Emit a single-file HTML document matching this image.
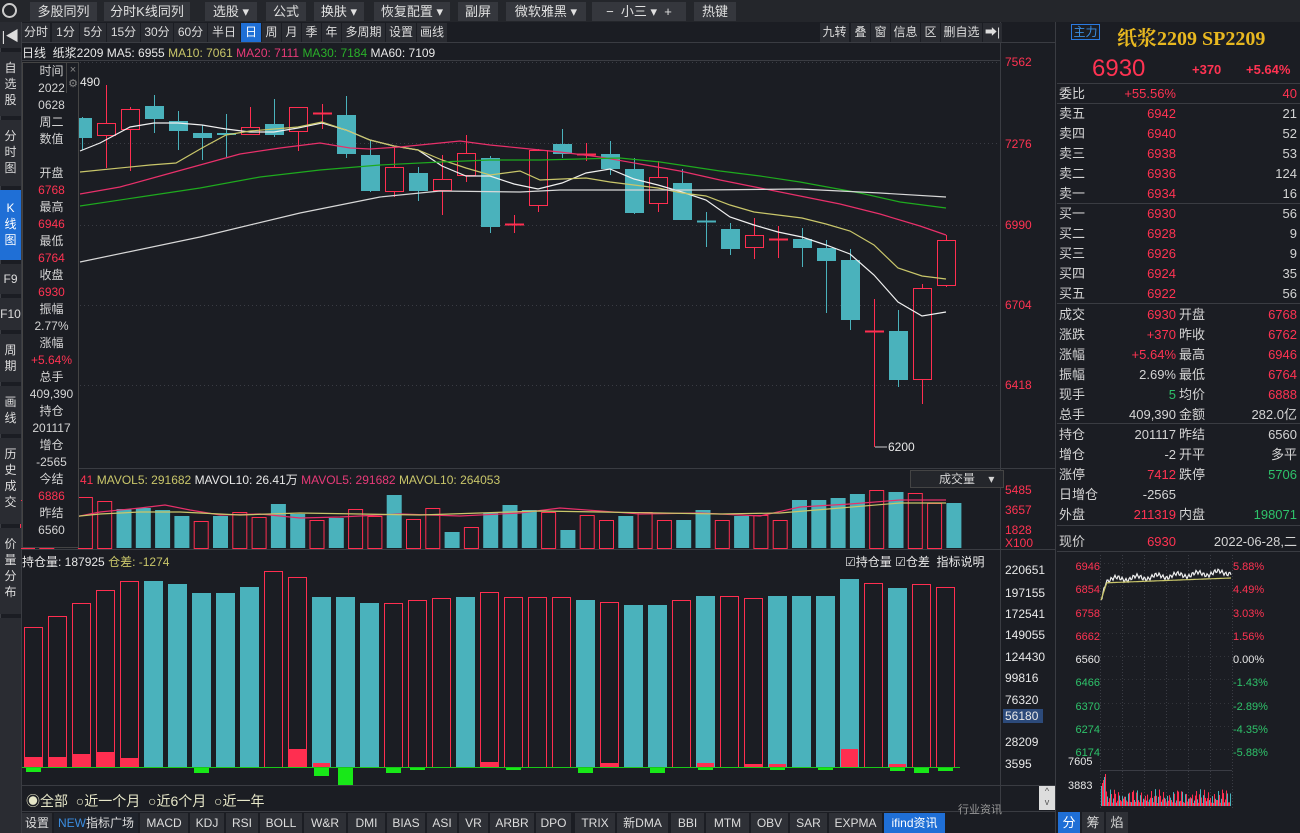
<!DOCTYPE html>
<html><head><meta charset="utf-8">
<style>
*{margin:0;padding:0;box-sizing:border-box}
body{width:1300px;height:833px;background:#1b1d23;overflow:hidden;position:relative;font-family:"Liberation Sans","Noto Sans CJK SC",sans-serif;font-size:12px;color:#d4d4d4}
.a{position:absolute;white-space:nowrap}
.btn{position:absolute;top:2px;height:19px;background:#35373d;color:#e0e0e0;font-size:13px;line-height:19px;text-align:center}
.tab{position:absolute;top:23px;height:19px;background:#2a2c32;color:#ddd;font-size:12px;line-height:19px;text-align:center;border-right:1px solid #1b1d23}
.side{position:absolute;left:0;width:21px;background:#2a2c32;color:#ddd;font-size:12px;line-height:16px;text-align:center;padding-top:4px}
.r{color:#ff3352}.g{color:#2ec26a}.y{color:#c9c66a}.m{color:#e83a78}.gr{color:#2ab02a}.w{color:#e8e8e8}
.info div{height:17px;line-height:17px;text-align:center;width:57px}
.rp div{position:absolute;height:20px;line-height:20px;font-size:13px;white-space:nowrap}
.bt{position:absolute;top:813px;height:20px;background:#2e3036;color:#ddd;font-size:12px;line-height:20px;text-align:center}
</style></head><body>
<svg id="s" class="a" style="left:0;top:0" width="1300" height="833"></svg>

<div class="a" style="left:0;top:0;width:1300px;height:22px;background:#24262b"></div>
<div class="a" style="left:2px;top:3px;width:15px;height:15px;border:2px solid #ccc;border-radius:50%"></div>
<div class="btn" style="left:30px;width:67px">多股同列</div>
<div class="btn" style="left:104px;width:86px">分时K线同列</div>
<div class="btn" style="left:205px;width:52px">选股 ▾</div>
<div class="btn" style="left:266px;width:40px">公式</div>
<div class="btn" style="left:314px;width:50px">换肤 ▾</div>
<div class="btn" style="left:374px;width:76px">恢复配置 ▾</div>
<div class="btn" style="left:458px;width:40px">副屏</div>
<div class="btn" style="left:506px;width:80px">微软雅黑 ▾</div>
<div class="btn" style="left:592px;width:94px">−&nbsp;&nbsp;小三 ▾&nbsp;&nbsp;+</div>
<div class="btn" style="left:694px;width:42px">热键</div>

<div class="side" style="top:22px;height:26px;font-size:14px;line-height:20px">|◀</div>
<div class="side" style="top:52px;height:64px;padding-top:8px">自<br>选<br>股</div>
<div class="side" style="top:120px;height:66px;padding-top:8px">分<br>时<br>图</div>
<div class="side" style="top:190px;height:70px;padding-top:10px;background:#1f6fd6;color:#fff">K<br>线<br>图</div>
<div class="side" style="top:264px;height:30px;padding-top:7px">F9</div>
<div class="side" style="top:298px;height:32px;padding-top:8px">F10</div>
<div class="side" style="top:334px;height:48px;padding-top:8px">周<br>期</div>
<div class="side" style="top:386px;height:48px;padding-top:8px">画<br>线</div>
<div class="side" style="top:438px;height:86px;padding-top:8px">历<br>史<br>成<br>交</div>
<div class="side" style="top:528px;height:86px;padding-top:8px">价<br>量<br>分<br>布</div>
<div class="side" style="top:618px;height:215px"></div>

<div class="tab" style="left:22px;width:29px">分时</div>
<div class="tab" style="left:52px;width:28px">1分</div>
<div class="tab" style="left:80px;width:27px">5分</div>
<div class="tab" style="left:107px;width:34px">15分</div>
<div class="tab" style="left:141px;width:33px">30分</div>
<div class="tab" style="left:174px;width:34px">60分</div>
<div class="tab" style="left:208px;width:33px">半日</div>
<div class="tab" style="left:241px;width:21px;background:#1f6fd6;color:#fff">日</div>
<div class="tab" style="left:262px;width:20px">周</div>
<div class="tab" style="left:282px;width:20px">月</div>
<div class="tab" style="left:302px;width:20px">季</div>
<div class="tab" style="left:322px;width:20px">年</div>
<div class="tab" style="left:342px;width:44px">多周期</div>
<div class="tab" style="left:386px;width:31px">设置</div>
<div class="tab" style="left:417px;width:31px">画线</div>
<div class="tab" style="left:820px;width:30px">九转</div>
<div class="tab" style="left:851px;width:20px">叠</div>
<div class="tab" style="left:871px;width:20px">窗</div>
<div class="tab" style="left:891px;width:30px">信息</div>
<div class="tab" style="left:921px;width:20px">区</div>
<div class="tab" style="left:941px;width:42px">删自选</div>
<div class="tab" style="left:983px;width:20px">➡|</div>

<div class="a" style="left:22px;top:44px;font-size:12px"><span class="w">日线&nbsp; 纸浆2209 MA5: 6955</span> <span class="y">MA10: 7061</span> <span class="m">MA20: 7111</span> <span class="gr">MA30: 7184</span> <span class="w">MA60: 7109</span></div>

<div class="a r" style="left:1005px;top:55px">7562</div>
<div class="a r" style="left:1005px;top:137px">7276</div>
<div class="a r" style="left:1005px;top:218px">6990</div>
<div class="a r" style="left:1005px;top:298px">6704</div>
<div class="a r" style="left:1005px;top:378px">6418</div>
<div class="a w" style="left:888px;top:440px">6200</div>
<div class="a w" style="left:80px;top:75px">490</div>

<div class="a r" style="left:1005px;top:483px">5485</div>
<div class="a r" style="left:1005px;top:503px">3657</div>
<div class="a r" style="left:1005px;top:523px">1828</div>
<div class="a r" style="left:1005px;top:536px">X100</div>

<div class="a" style="left:80px;top:471px"><span class="r">41</span> <span class="y">MAVOL5: 291682</span> <span class="w">MAVOL10: 26.41万</span> <span class="m">MAVOL5: 291682</span> <span class="y">MAVOL10: 264053</span></div>
<div class="a" style="left:910px;top:470px;width:94px;height:18px;background:#24262b;border:1px solid #444;line-height:16px;padding-left:28px">成交量&nbsp;&nbsp;&nbsp;&nbsp;▾</div>

<div class="a" style="left:22px;top:553px"><span class="w">持仓量: 187925</span> <span class="y">仓差: -1274</span></div>
<div class="a w" style="left:845px;top:553px">☑持仓量 ☑仓差&nbsp; 指标说明</div>

<div class="a w" style="left:1005px;top:563px">220651</div>
<div class="a w" style="left:1005px;top:586px">197155</div>
<div class="a w" style="left:1005px;top:607px">172541</div>
<div class="a w" style="left:1005px;top:628px">149055</div>
<div class="a w" style="left:1005px;top:650px">124430</div>
<div class="a w" style="left:1005px;top:671px">99816</div>
<div class="a w" style="left:1005px;top:693px">76320</div>
<div class="a w" style="left:1003px;top:709px;width:40px;background:#2c4a7a;padding-left:2px">56180</div>
<div class="a w" style="left:1005px;top:735px">28209</div>
<div class="a w" style="left:1005px;top:757px">3595</div>

<div class="a" style="left:26px;top:791px;font-size:14px;color:#e6e6c8">◉全部&nbsp; ○近一个月&nbsp; ○近6个月&nbsp; ○近一年</div>
<div class="a" style="left:1039px;top:786px;width:16px;height:24px;background:#ddd;color:#555;font-size:9px;text-align:center;line-height:11px">^<br>v</div>
<div class="a" style="left:958px;top:801px;font-size:11px;color:#999">行业资讯</div>

<div class="bt" style="left:22px;width:30px">设置</div>
<div class="bt" style="left:54px;width:84px;background:#20242c"><span style="color:#3b8de0">NEW</span>指标广场</div>
<div class="bt" style="left:140px;width:48px">MACD</div>
<div class="bt" style="left:190px;width:34px">KDJ</div>
<div class="bt" style="left:226px;width:32px">RSI</div>
<div class="bt" style="left:260px;width:42px">BOLL</div>
<div class="bt" style="left:304px;width:42px">W&amp;R</div>
<div class="bt" style="left:348px;width:37px">DMI</div>
<div class="bt" style="left:387px;width:38px">BIAS</div>
<div class="bt" style="left:427px;width:30px">ASI</div>
<div class="bt" style="left:459px;width:29px">VR</div>
<div class="bt" style="left:490px;width:44px">ARBR</div>
<div class="bt" style="left:536px;width:35px">DPO</div>
<div class="bt" style="left:575px;width:40px">TRIX</div>
<div class="bt" style="left:617px;width:51px">新DMA</div>
<div class="bt" style="left:671px;width:33px">BBI</div>
<div class="bt" style="left:706px;width:43px">MTM</div>
<div class="bt" style="left:751px;width:37px">OBV</div>
<div class="bt" style="left:790px;width:37px">SAR</div>
<div class="bt" style="left:829px;width:53px">EXPMA</div>
<div class="bt" style="left:884px;width:61px;background:#1f6fd6;color:#fff">ifind资讯</div>

<div class="a info" style="left:22px;top:62px;width:57px;height:486px;background:#1b1d23;border:1px solid #444;overflow:hidden;font-size:12px">
<div>时间</div><div>2022</div><div>0628</div><div>周二</div><div>数值</div><div></div>
<div>开盘</div><div class="r">6768</div><div>最高</div><div class="r">6946</div><div>最低</div><div class="r">6764</div><div>收盘</div><div class="r">6930</div><div>振幅</div><div>2.77%</div><div>涨幅</div><div class="r">+5.64%</div><div>总手</div><div>409,390</div><div>持仓</div><div>201117</div><div>增仓</div><div>-2565</div><div>今结</div><div class="r">6886</div><div>昨结</div><div>6560</div>
</div>
<div class="a" style="left:66px;top:63px;width:13px;height:30px;border-left:1px solid #444;color:#888;font-size:11px;line-height:14px;text-align:center">×<br>⚙</div>

<div class="a" style="left:1071px;top:24px;width:29px;height:16px;border:1px solid #2a7ae0;color:#3b8de0;font-size:12px;line-height:14px;text-align:center">主力</div>
<div class="a" style="left:1117px;top:22px;font-size:20px;font-weight:bold;color:#e8b820;font-family:'Liberation Serif','Noto Serif CJK SC',serif">纸浆2209 SP2209</div>
<div class="a r" style="left:1092px;top:55px;font-size:24px">6930</div>
<div class="a r" style="left:1192px;top:62px;font-size:13px;font-weight:bold">+370</div>
<div class="a r" style="left:1246px;top:62px;font-size:13px;font-weight:bold">+5.64%</div>
<div class="rp" style="position:absolute;left:0;top:0">
<div style="left:1059px;top:84px">委比</div><div class="r" style="left:1120px;top:84px;width:56px;text-align:right">+55.56%</div><div class="r" style="left:1250px;top:84px;width:47px;text-align:right">40</div>
<div style="left:1059px;top:104px">卖五</div><div class="r" style="left:1120px;top:104px;width:56px;text-align:right">6942</div><div style="left:1250px;top:104px;width:47px;text-align:right">21</div>
<div style="left:1059px;top:124px">卖四</div><div class="r" style="left:1120px;top:124px;width:56px;text-align:right">6940</div><div style="left:1250px;top:124px;width:47px;text-align:right">52</div>
<div style="left:1059px;top:144px">卖三</div><div class="r" style="left:1120px;top:144px;width:56px;text-align:right">6938</div><div style="left:1250px;top:144px;width:47px;text-align:right">53</div>
<div style="left:1059px;top:164px">卖二</div><div class="r" style="left:1120px;top:164px;width:56px;text-align:right">6936</div><div style="left:1250px;top:164px;width:47px;text-align:right">124</div>
<div style="left:1059px;top:184px">卖一</div><div class="r" style="left:1120px;top:184px;width:56px;text-align:right">6934</div><div style="left:1250px;top:184px;width:47px;text-align:right">16</div>
<div style="left:1059px;top:204px">买一</div><div class="r" style="left:1120px;top:204px;width:56px;text-align:right">6930</div><div style="left:1250px;top:204px;width:47px;text-align:right">56</div>
<div style="left:1059px;top:224px">买二</div><div class="r" style="left:1120px;top:224px;width:56px;text-align:right">6928</div><div style="left:1250px;top:224px;width:47px;text-align:right">9</div>
<div style="left:1059px;top:244px">买三</div><div class="r" style="left:1120px;top:244px;width:56px;text-align:right">6926</div><div style="left:1250px;top:244px;width:47px;text-align:right">9</div>
<div style="left:1059px;top:264px">买四</div><div class="r" style="left:1120px;top:264px;width:56px;text-align:right">6924</div><div style="left:1250px;top:264px;width:47px;text-align:right">35</div>
<div style="left:1059px;top:284px">买五</div><div class="r" style="left:1120px;top:284px;width:56px;text-align:right">6922</div><div style="left:1250px;top:284px;width:47px;text-align:right">56</div>
<div style="left:1059px;top:305px">成交</div><div class="r" style="left:1120px;top:305px;width:56px;text-align:right">6930</div><div style="left:1179px;top:305px">开盘</div><div class="r" style="left:1240px;top:305px;width:57px;text-align:right">6768</div>
<div style="left:1059px;top:325px">涨跌</div><div class="r" style="left:1120px;top:325px;width:56px;text-align:right">+370</div><div style="left:1179px;top:325px">昨收</div><div class="r" style="left:1240px;top:325px;width:57px;text-align:right">6762</div>
<div style="left:1059px;top:345px">涨幅</div><div class="r" style="left:1110px;top:345px;width:66px;text-align:right">+5.64%</div><div style="left:1179px;top:345px">最高</div><div class="r" style="left:1240px;top:345px;width:57px;text-align:right">6946</div>
<div style="left:1059px;top:365px">振幅</div><div style="left:1110px;top:365px;width:66px;text-align:right">2.69%</div><div style="left:1179px;top:365px">最低</div><div class="r" style="left:1240px;top:365px;width:57px;text-align:right">6764</div>
<div style="left:1059px;top:385px">现手</div><div class="g" style="left:1120px;top:385px;width:56px;text-align:right">5</div><div style="left:1179px;top:385px">均价</div><div class="r" style="left:1240px;top:385px;width:57px;text-align:right">6888</div>
<div style="left:1059px;top:405px">总手</div><div style="left:1110px;top:405px;width:66px;text-align:right">409,390</div><div style="left:1179px;top:405px">金额</div><div style="left:1230px;top:405px;width:67px;text-align:right">282.0亿</div>
<div style="left:1059px;top:425px">持仓</div><div style="left:1110px;top:425px;width:66px;text-align:right">201117</div><div style="left:1179px;top:425px">昨结</div><div style="left:1240px;top:425px;width:57px;text-align:right">6560</div>
<div style="left:1059px;top:445px">增仓</div><div style="left:1110px;top:445px;width:66px;text-align:right">-2</div><div style="left:1179px;top:445px">开平</div><div style="left:1240px;top:445px;width:57px;text-align:right">多平</div>
<div style="left:1059px;top:465px">涨停</div><div class="r" style="left:1110px;top:465px;width:66px;text-align:right">7412</div><div style="left:1179px;top:465px">跌停</div><div class="g" style="left:1240px;top:465px;width:57px;text-align:right">5706</div>
<div style="left:1059px;top:485px">日增仓</div><div style="left:1110px;top:485px;width:66px;text-align:right">-2565</div>
<div style="left:1059px;top:505px">外盘</div><div class="r" style="left:1110px;top:505px;width:66px;text-align:right">211319</div><div style="left:1179px;top:505px">内盘</div><div class="g" style="left:1240px;top:505px;width:57px;text-align:right">198071</div>
<div style="left:1059px;top:532px">现价</div><div class="r" style="left:1120px;top:532px;width:56px;text-align:right">6930</div><div style="left:1205px;top:532px;width:92px;text-align:right">2022-06-28,二</div>
</div>
<div class="a" style="left:1058px;top:556px;font-size:11px;line-height:23.3px;width:42px;text-align:right">
<div class="r">6946</div><div class="r">6854</div><div class="r">6758</div><div class="r">6662</div><div class="w">6560</div><div class="g">6466</div><div class="g">6370</div><div class="g">6274</div><div class="g">6174</div></div>
<div class="a" style="left:1233px;top:556px;font-size:11px;line-height:23.3px">
<div class="r">5.88%</div><div class="r">4.49%</div><div class="r">3.03%</div><div class="r">1.56%</div><div class="w">0.00%</div><div class="g">-1.43%</div><div class="g">-2.89%</div><div class="g">-4.35%</div><div class="g">-5.88%</div></div>
<div class="a w" style="left:1068px;top:756px;font-size:11px">7605</div>
<div class="a w" style="left:1068px;top:780px;font-size:11px">3883</div>
<div class="a" style="left:1058px;top:812px;width:22px;height:21px;background:#1f6fd6;color:#fff;text-align:center;line-height:21px;font-size:13px">分</div>
<div class="a" style="left:1082px;top:812px;width:22px;height:21px;background:#2e3036;text-align:center;line-height:21px;font-size:13px">筹</div>
<div class="a" style="left:1106px;top:812px;width:22px;height:21px;background:#2e3036;text-align:center;line-height:21px;font-size:13px">焰</div>

<script>
var s=document.getElementById('s'),h='';
var R='#ff2e50',C='#4ab2bc';
function L(x1,y1,x2,y2,c,w,d){h+='<line x1="'+x1+'" y1="'+y1+'" x2="'+x2+'" y2="'+y2+'" stroke="'+c+'" stroke-width="'+(w||1)+'"'+(d?' stroke-dasharray="'+d+'"':'')+'/>';}
function Rc(x,y,w,hh,f,st){h+='<rect x="'+x+'" y="'+y+'" width="'+w+'" height="'+hh+'" fill="'+f+'"'+(st?' stroke="'+st+'"':'')+'/>';}
function P(pts,c){h+='<polyline fill="none" stroke="'+c+'" stroke-width="1.2" points="'+pts+'"/>';}
L(0.5,22,0.5,833,'#3a3c42');L(21.5,22,21.5,833,'#3a3c42');
L(22,42.5,1055,42.5,'#3a3c42');L(22,60.5,1000,60.5,'#3a3c42');
L(1000.5,22,1000.5,812,'#3a3c42');L(1055.5,22,1055.5,833,'#3a3c42');
L(22,468.5,1055,468.5,'#3a3c42');L(22,549.5,1055,549.5,'#3a3c42');
L(22,785.5,1055,785.5,'#3a3c42');L(22,811.5,1055,811.5,'#3a3c42');
[62,143,225,305,385].forEach(function(y){L(80,y+.5,1000,y+.5,'#3a3c44',1,'1,3');});
[83,103,203,303,423,525,551].forEach(function(y){L(1057,y+.5,1300,y+.5,'#3a3c42');});
var K=[[0,118,138,117,150],[1,135,123,85,168],[1,129,109,107,171],[0,106,119,95,133],[0,121,131,111,150],[0,133,138,125,160],[0,133,135,114,157],[1,134,127,107,134],[0,124,135,99,137],[1,131,107,107,151],[1,113,113,104,129],[0,115,154,96,158],[0,155,191,140,192],[1,191,167,147,197],[0,173,191,167,201],[1,190,179,155,215],[1,175,153,135,182],[0,158,227,156,233],[1,224,224,215,233],[1,205,150,149,212],[0,144,154,129,158],[1,154,154,143,161],[0,154,169,141,175],[0,169,213,158,214],[1,203,177,161,212],[0,183,220,169,220],[0,221,222,212,247],[0,229,249,223,255],[1,247,235,218,259],[1,239,239,226,258],[0,239,248,228,267],[0,248,261,240,313],[0,260,320,249,330],[1,331,331,299,447],[0,331,380,310,387],[1,379,288,284,404],[1,285,240,235,287]];
K.forEach(function(k,j){var x=82+24*j,c=k[0]?R:C,t=Math.min(k[1],k[2]),b=Math.max(k[1],k[2]);
L(x+.5,k[3],x+.5,t,c);L(x+.5,b,x+.5,k[4],c);
if(b-t<2){L(x-9,t+.5,x+10,t+.5,c,2);}else if(k[0]){Rc(x-8.5,t+.5,18,b-t,'none',c);}else Rc(x-9,t,19,b-t,c);});
L(875,447,887,447,'#ccc');
P('80,151 100,143 130,127 154,123 178,123 202,125 226,129 250,132 274,132 298,128 322,123 346,130 370,140 394,146 418,150 442,166 466,176 490,176 514,184 538,189 562,183 586,173 610,169 634,179 658,185 682,192 706,200 730,217 754,225 778,232 802,237 826,245 850,254 874,275 898,302 922,316 946,312','#f0f0f0');
P('80,172 150,165 176,163 202,148 226,135 250,131 298,127 322,122 346,130 370,140 394,146 418,150 442,160 466,168 490,175 520,171 540,180 562,179 586,178 610,182 634,185 658,188 682,193 706,196 730,205 754,212 778,215 802,218 826,224 850,231 874,245 898,268 922,276 946,279','#c9c66a');
P('80,194 120,187 160,176 200,165 240,154 280,148 320,143 350,148 370,149 400,147 440,143 460,141 490,145 520,148 560,152 600,157 640,164 680,171 720,180 760,188 800,196 840,204 880,214 920,226 946,235','#e8306a');
P('80,206 140,197 200,188 260,177 320,170 380,165 440,162 490,160 540,160 580,159 620,158 660,162 720,171 760,176 800,182 860,193 900,202 946,208','#1eaa1e');
P('80,262 200,237 300,213 380,197 440,191 520,192 560,190 700,190 800,189 880,193 946,197','#d8d8d8');
var V=[[1,500],[1,500],[0,523],[1,497],[1,501],[0,509],[0,508],[0,510],[0,516],[1,521],[0,516],[1,512],[1,517],[0,504],[0,514],[1,520],[0,518],[1,509],[1,516],[0,495],[1,519],[1,508],[0,532],[1,527],[0,513],[0,505],[0,510],[1,512],[0,530],[1,515],[1,520],[0,516],[1,512],[1,520],[0,520],[0,510],[1,520],[0,516],[1,515],[1,520],[0,500],[0,500],[0,498],[0,494],[1,490],[0,492],[1,493],[1,503],[0,503]];
V.forEach(function(v,i){var x=20+19.3*i;if(v[0])Rc(x+.5,v[1]+.5,14,548-v[1],'none',R);else Rc(x,v[1],15,548-v[1],C);});
P('60,520 100,512 140,508 165,505 190,510 220,515 260,514 300,518 340,517 400,514 460,516 520,513 560,508 600,511 640,514 700,513 760,516 800,507 850,504 900,500 946,500','#e8306a');
P('60,518 100,514 140,512 180,512 240,515 300,513 360,514 420,515 480,513 540,511 600,512 660,513 720,514 780,513 840,508 900,503 946,503','#c9c66a');
var O=[627,616,603,590,581,581,584,593,593,587,571,577,597,597,603,603,600,598,597,592,597,597,597,600,602,605,605,600,596,596,598,596,596,596,579,583,588,584,587];
var red=[0,1,2,3,4,10,11,15,16,17,19,20,21,22,24,27,29,30,35,37,38];
var F={0:10,1:10,2:13,3:15,4:9,11:18,12:4,19:5,24:4,28:4,34:18,36:3,31:3,30:3};
var G={0:4,7:5,12:8,13:17,15:5,16:2,20:2,23:5,26:5,28:2,31:2,33:2,37:5,38:3,36:3};
O.forEach(function(t,i){var x=24+24*i;if(red.indexOf(i)>=0)Rc(x+.5,t+.5,18,767-t,'none',R);else Rc(x,t,19,767-t,C);
if(F[i])Rc(x+1,767-F[i],17,F[i],R);if(G[i])Rc(x+2,768,15,G[i],'#18e818');});
L(22,767.5,960,767.5,'#18c818');
for(var k=0;k<=6;k++)L(1100+k*22+.5,555,1100+k*22+.5,810,'#3a3c44',1,'1,2');
[563,586,609,633,656,679,703,726,749].forEach(function(y){L(1100,y+.5,1232,y+.5,'#33353b',1,'1,3');});
L(1100,770.5,1232,770.5,'#3a3c44');
var pts='',a='';for(var i=0;i<=130;i++){var x=1101+i;var y=(i<6?600-i*4:580-(i/130)*8)+Math.sin(i*1.7)*2+Math.sin(i*0.31)*2;pts+=x+','+y.toFixed(1)+' ';a+=x+','+(i<6?600-i*3:583-(i/130)*5).toFixed(1)+' ';}
P(pts,'#f0f0f0');P(a,'#c9c66a');
for(var i=0;i<130;i+=1){var hh=3+Math.abs(Math.sin(i*2.3)*Math.cos(i*0.7))*14;if(i<5)hh=20+i*3;Rc(1101+i,806-hh,1,hh,i%3?R:C);}
s.innerHTML=h;
</script>
</body></html>
